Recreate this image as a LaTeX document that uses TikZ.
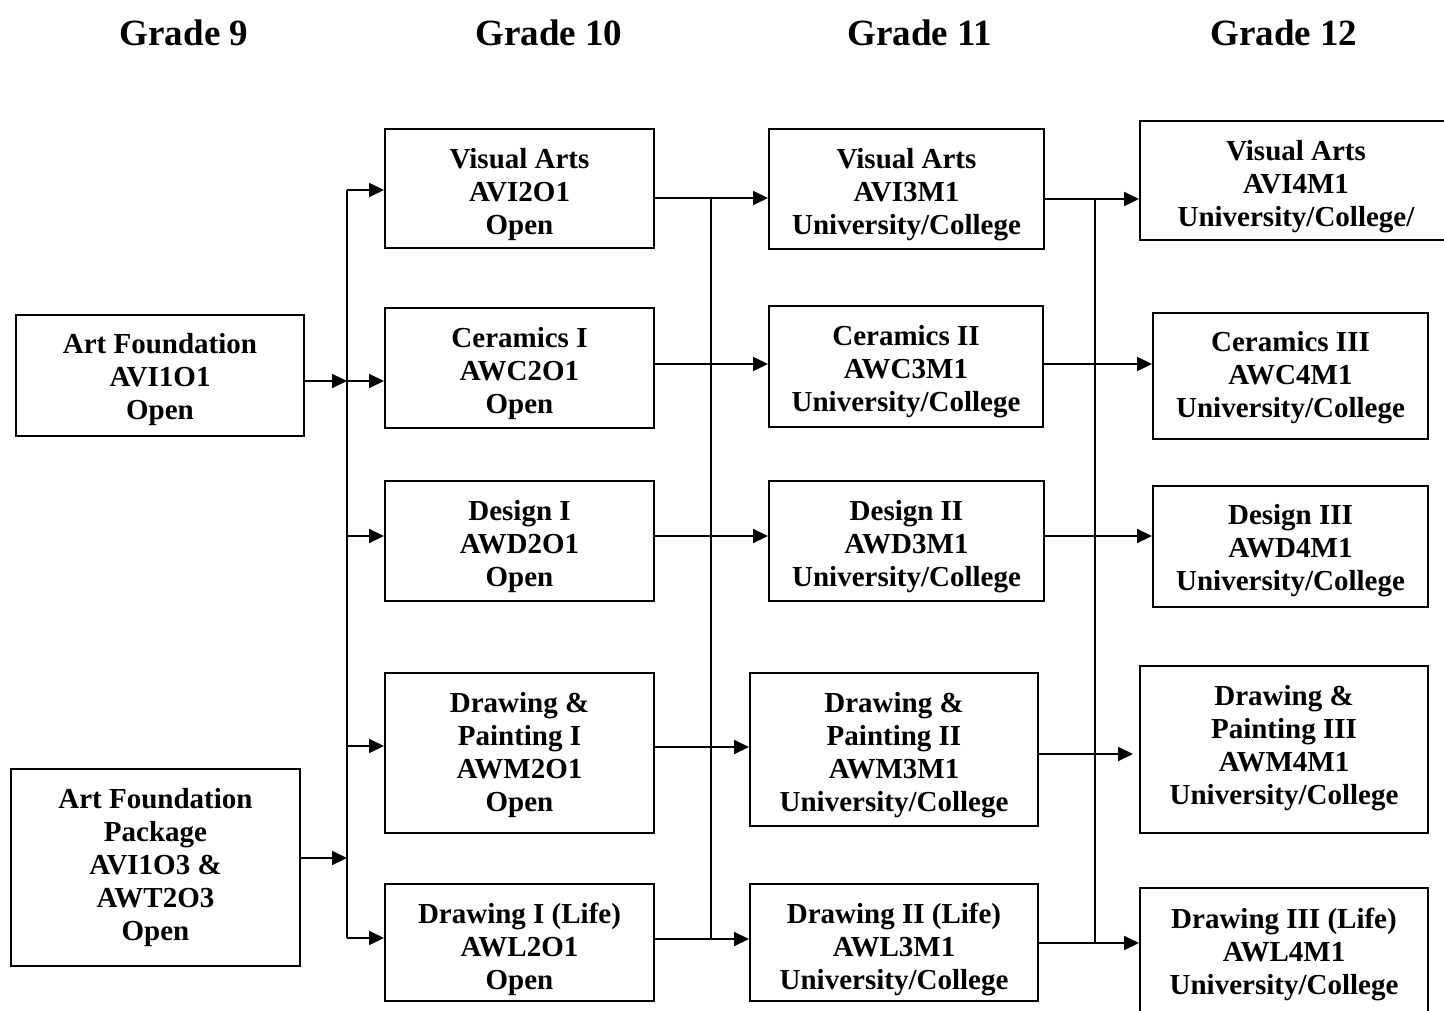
\documentclass[tikz,border=0pt]{standalone}
\usepackage{fontspec}
\setmainfont{Liberation Serif}
\usetikzlibrary{arrows.meta}
\tikzset{
  box/.style={draw, line width=2pt, inner sep=0pt},
  boxtext/.style={inner sep=0pt, align=center,
    font=\bfseries\fontsize{29}{33}\selectfont},
  title/.style={font=\bfseries\fontsize{37}{40}\selectfont, inner sep=0pt},
  conn/.style={line width=2pt},
  arr/.style={line width=2pt, -{Triangle[length=15pt,width=14pt]}}
}
\newcommand{\bx}[7]{% name, x1, y1, x2, y2, text shift down, text
  \node[box, minimum width={#4-#2}, minimum height={#5-#3}] (#1) at ({(#2+#4)/2},{-(#3+#5)/2}) {};
  \node[boxtext] (#1t) at ([yshift=-#6pt]#1.center) {#7};}
\begin{document}
\begin{tikzpicture}[x=1pt,y=1pt]
\useasboundingbox (0,0) rectangle (1444,-1011);
\clip (0,0) rectangle (1444,-1011);
\fill[white] (0,0) rectangle (1444,-1011);
% titles
\node[title] (g9) at (184,-33) {Grade 9};
\node[title] (g10) at (549,-33) {Grade 10};
\node[title] (g11) at (920,-33) {Grade 11};
\node[title] (g12) at (1284,-33) {Grade 12};
% grade 9
\bx{af1}{16}{315}{304}{436}{4}{Art Foundation\\AVI1O1\\Open}
\bx{af2}{11}{769}{300}{966}{0}{Art Foundation\\Package\\AVI1O3 \&\\AWT2O3\\Open}
% grade 10
\bx{va10}{385}{129}{654}{248}{6}{Visual Arts\\AVI2O1\\Open}
\bx{ce10}{385}{308}{654}{428}{6}{Ceramics I\\AWC2O1\\Open}
\bx{de10}{385}{481}{654}{601}{6}{Design I\\AWD2O1\\Open}
\bx{dp10}{385}{673}{654}{833}{2}{Drawing \&\\Painting I\\AWM2O1\\Open}
\bx{dr10}{385}{884}{654}{1001}{7}{Drawing I (Life)\\AWL2O1\\Open}
% grade 11
\bx{va11}{769}{129}{1044}{249}{6}{Visual Arts\\AVI3M1\\University/College}
\bx{ce11}{769}{306}{1043}{427}{5}{Ceramics II\\AWC3M1\\University/College}
\bx{de11}{769}{481}{1044}{601}{6}{Design II\\AWD3M1\\University/College}
\bx{dp11}{750}{673}{1038}{826}{6}{Drawing \&\\Painting II\\AWM3M1\\University/College}
\bx{dr11}{750}{884}{1038}{1001}{7}{Drawing II (Life)\\AWL3M1\\University/College}
% grade 12
\bx{va12}{1140}{121}{1452}{240}{6}{Visual Arts\\AVI4M1\\University/College/}
\bx{ce12}{1153}{313}{1428}{439}{2}{Ceramics III\\AWC4M1\\University/College}
\bx{de12}{1153}{486}{1428}{607}{4}{Design III\\AWD4M1\\University/College}
\bx{dp12}{1140}{666}{1428}{833}{-1}{Drawing \&\\Painting III\\AWM4M1\\University/College}
\bx{dr12}{1140}{888}{1428}{1016}{2}{Drawing III (Life)\\AWL4M1\\University/College}
% trunk A
\coordinate (a1) at (347,-190);
\coordinate (a2) at (347,-381);
\coordinate (a3) at (347,-536);
\coordinate (a4) at (347,-746);
\coordinate (a5) at (347,-938);
\coordinate (a6) at (347,-858);
\draw[conn] (a1) -- (a5);
\draw[arr] (af1.east |- a2) -- (a2);
\draw[arr] (af2.east |- a6) -- (a6);
\draw[arr] (a1) -- (a1 -| va10.west);
\draw[arr] (a2) -- (a2 -| ce10.west);
\draw[arr] (a3) -- (a3 -| de10.west);
\draw[arr] (a4) -- (a4 -| dp10.west);
\draw[arr] (a5) -- (a5 -| dr10.west);
% trunk B
\coordinate (b1) at (711,-198);
\coordinate (b2) at (711,-364);
\coordinate (b3) at (711,-536);
\coordinate (b4) at (711,-747);
\coordinate (b5) at (711,-939);
\draw[conn] (b1) -- (b5);
\draw[arr] (va10.east |- b1) -- (b1 -| va11.west);
\draw[arr] (ce10.east |- b2) -- (b2 -| ce11.west);
\draw[arr] (de10.east |- b3) -- (b3 -| de11.west);
\draw[arr] (dp10.east |- b4) -- (b4 -| dp11.west);
\draw[arr] (dr10.east |- b5) -- (b5 -| dr11.west);
% trunk C
\coordinate (c1) at (1095,-199);
\coordinate (c2) at (1095,-364);
\coordinate (c3) at (1095,-536);
\coordinate (c4) at (1095,-754);
\coordinate (c5) at (1095,-943);
\draw[conn] (c1) -- (c5);
\draw[arr] (va11.east |- c1) -- (c1 -| va12.west);
\draw[arr] (ce11.east |- c2) -- (c2 -| ce12.west);
\draw[arr] (de11.east |- c3) -- (c3 -| de12.west);
\draw[arr, shorten >=6pt] (dp11.east |- c4) -- (c4 -| dp12.west);
\draw[arr] (dr11.east |- c5) -- (c5 -| dr12.west);
\end{tikzpicture}
\end{document}
